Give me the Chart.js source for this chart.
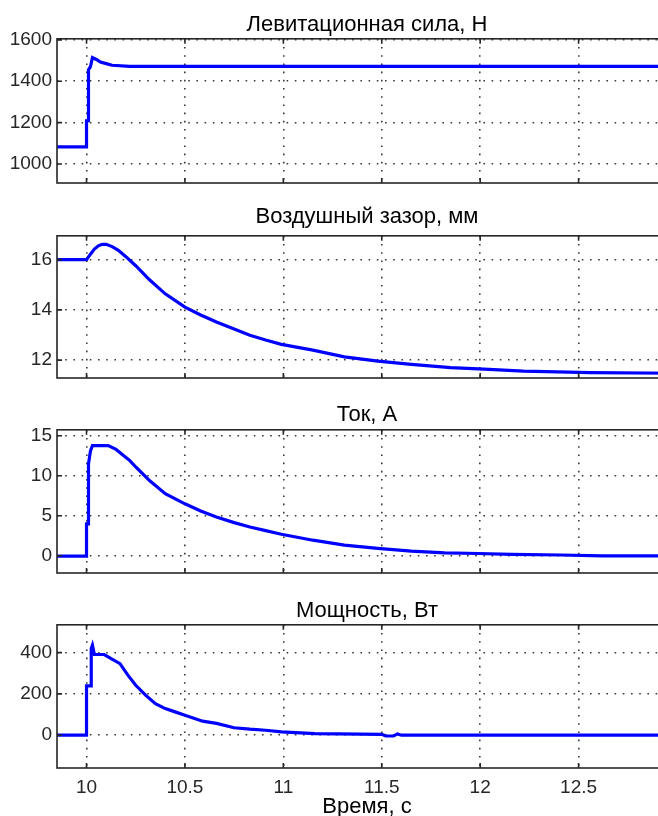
<!DOCTYPE html>
<html lang="ru">
<head>
<meta charset="utf-8">
<title>Левитация</title>
<script src="https://cdn.jsdelivr.net/npm/chart.js@4.4.1/dist/chart.umd.min.js"></script>
<style>
    html, body {
        margin: 0;
        padding: 0;
        background: #ffffff;
        overflow: hidden;
        width: 658px;
        height: 816px;
    }

    canvas {
        position: absolute;
        left: 0;
    }
</style>
</head>
<body>

<canvas id="forceChart" width="734" height="200" style="top:0px"></canvas>
<canvas id="gapChart" width="734" height="197" style="top:198px"></canvas>
<canvas id="currentChart" width="734" height="197" style="top:393px"></canvas>
<canvas id="powerChart" width="734" height="232" style="top:588px"></canvas>

<script>
// time axis
const timeLabel = "Время, с";
const timeTicks = [10, 10.5, 11, 11.5, 12, 12.5];
const timeMin = 9.85;
const timeMax = 13;

// levitation force, N
const forceTitle = "Левитационная сила, Н";
const forceTime = [9.85, 10.0, 10.0, 10.01, 10.01, 10.02, 10.03, 10.05, 10.07, 10.1, 10.13, 10.22, 13.0];
const forceValues = [1083, 1083, 1209, 1209, 1455, 1470, 1514, 1505, 1493, 1485, 1477, 1472, 1472];
const forceTicks = [1000, 1200, 1400, 1600];

// air gap, mm
const gapTitle = "Воздушный зазор, мм";
const gapTime = [9.85, 10.0, 10.02, 10.04, 10.06, 10.08, 10.1, 10.13, 10.16, 10.2, 10.25, 10.32, 10.4, 10.5, 10.58, 10.66, 10.75, 10.83, 10.91, 10.99, 11.15, 11.31, 11.48, 11.65, 11.85, 12.02, 12.22, 12.56, 13.0];
const gapValues = [16.0, 16.0, 16.22, 16.42, 16.55, 16.61, 16.61, 16.52, 16.38, 16.12, 15.76, 15.2, 14.64, 14.11, 13.8, 13.52, 13.24, 12.99, 12.8, 12.63, 12.4, 12.13, 11.96, 11.83, 11.7, 11.64, 11.56, 11.5, 11.48];
const gapTicks = [12, 14, 16];

// current, A
const currentTitle = "Ток, А";
const currentTime = [9.85, 10.0, 10.0, 10.01, 10.01, 10.02, 10.03, 10.11, 10.15, 10.18, 10.22, 10.25, 10.32, 10.4, 10.5, 10.58, 10.66, 10.75, 10.83, 10.91, 10.99, 11.15, 11.31, 11.48, 11.65, 11.82, 11.99, 12.16, 12.41, 12.62, 13.0];
const currentValues = [-0.05, -0.05, 4.0, 4.0, 11.5, 13.1, 13.77, 13.77, 13.3, 12.7, 11.9, 11.1, 9.4, 7.76, 6.5, 5.6, 4.85, 4.15, 3.6, 3.15, 2.7, 1.95, 1.33, 0.92, 0.58, 0.37, 0.29, 0.17, 0.1, 0.0, 0.0];
const currentTicks = [0, 5, 10, 15];

// power, W
const powerTitle = "Мощность, Вт";
const powerTime = [9.85, 10.0, 10.0, 10.024, 10.024, 10.03, 10.04, 10.09, 10.125, 10.17, 10.21, 10.25, 10.3, 10.35, 10.4, 10.45, 10.5, 10.59, 10.66, 10.75, 10.83, 10.91, 10.99, 11.16, 11.5, 11.52, 11.56, 11.58, 11.6, 12.0, 13.0];
const powerValues = [0, 0, 239, 239, 420, 436, 391, 391, 371, 347, 291, 242, 194, 153, 129, 113, 97, 68, 57, 36, 29, 24, 16, 8, 4, -4, -4, 6, 0, 0, 0];
const powerTicks = [0, 200, 400];

const fontFamily = "'Liberation Sans', Arial, sans-serif";

function toPoints(time, values) {
    return time.map((t, i) => ({ x: t, y: values[i] }));
}

// box round the plot and inward tick marks, as in MATLAB
const matlabFrame = {
    id: "matlabFrame",
    afterDatasetsDraw(chart) {
        const { ctx, chartArea, scales } = chart;
        const len = 5;

        ctx.save();
        ctx.strokeStyle = "#262626";
        ctx.lineWidth = 1.6;
        ctx.beginPath();

        scales.x.ticks.forEach(t => {
            const px = scales.x.getPixelForValue(t.value);
            ctx.moveTo(px, chartArea.top);
            ctx.lineTo(px, chartArea.top + len);
            ctx.moveTo(px, chartArea.bottom);
            ctx.lineTo(px, chartArea.bottom - len);
        });

        scales.y.ticks.forEach(t => {
            const py = scales.y.getPixelForValue(t.value);
            ctx.moveTo(chartArea.left, py);
            ctx.lineTo(chartArea.left + len, py);
            ctx.moveTo(chartArea.right, py);
            ctx.lineTo(chartArea.right - len, py);
        });

        ctx.stroke();
        ctx.strokeRect(chartArea.left, chartArea.top, chartArea.width, chartArea.height);
        ctx.restore();
    }
};

function createPlot(canvasId, title, time, values, yTicks, yMin, yMax, titlePad, isLast) {

    const ctx = document.getElementById(canvasId).getContext("2d");

    return new Chart(ctx, {
        type: "line",
        data: {
            datasets: [
                {
                    data: toPoints(time, values),
                    borderColor: "#0000ff",
                    borderWidth: 3.2,
                    pointRadius: 0,
                    tension: 0,
                    fill: false
                }
            ]
        },
        options: {
            responsive: false,
            animation: false,
            layout: {
                padding: { left: 0, right: 0, top: 0, bottom: isLast ? 0 : 17 }
            },
            plugins: {
                legend: { display: false },
                tooltip: { enabled: false },
                title: {
                    display: true,
                    text: title,
                    color: "#000000",
                    font: { family: fontFamily, size: 22, weight: "normal" },
                    padding: titlePad
                }
            },
            scales: {
                x: {
                    type: "linear",
                    min: timeMin,
                    max: timeMax,
                    afterBuildTicks(scale) {
                        scale.ticks = timeTicks.map(v => ({ value: v }));
                    },
                    afterFit(scale) {
                        scale.height = isLast ? 52 : 0;
                        scale.paddingLeft = 0;
                        scale.paddingRight = 0;
                    },
                    ticks: {
                        display: isLast,
                        color: "#262626",
                        padding: 8,
                        maxRotation: 0,
                        font: { family: fontFamily, size: 19 },
                        callback: v => String(v)
                    },
                    grid: {
                        color: "#3a3a3a",
                        lineWidth: 1.6,
                        drawTicks: false
                    },
                    border: { display: false, dash: [1.6, 6.6] },
                    title: {
                        display: isLast,
                        text: timeLabel,
                        color: "#000000",
                        font: { family: fontFamily, size: 22 },
                        padding: { top: 0, bottom: 0 }
                    }
                },
                y: {
                    position: "left",
                    min: yMin,
                    max: yMax,
                    afterBuildTicks(scale) {
                        scale.ticks = yTicks.map(v => ({ value: v }));
                    },
                    afterFit(scale) {
                        scale.width = 57;
                        scale.paddingTop = 0;
                        scale.paddingBottom = 0;
                    },
                    ticks: {
                        color: "#262626",
                        padding: 5,
                        font: { family: fontFamily, size: 19 },
                        callback: v => String(v)
                    },
                    grid: {
                        color: "#3a3a3a",
                        lineWidth: 1.6,
                        drawTicks: false
                    },
                    border: { display: false, dash: [1.6, 6.6] }
                },
                // empty axis on the right so the title centres over the plot
                yRight: {
                    position: "right",
                    min: yMin,
                    max: yMax,
                    afterFit(scale) {
                        scale.width = 57;
                        scale.paddingTop = 0;
                        scale.paddingBottom = 0;
                    },
                    ticks: { display: false },
                    grid: { display: false },
                    border: { display: false }
                }
            }
        },
        plugins: [matlabFrame]
    });
}

createPlot("forceChart", forceTitle, forceTime, forceValues, forceTicks, 908, 1605, { top: 11.8, bottom: 0.6 }, false);
createPlot("gapChart", gapTitle, gapTime, gapValues, gapTicks, 11.29, 16.95, { top: 5.4, bottom: 6 }, false);
createPlot("currentChart", currentTitle, currentTime, currentValues, currentTicks, -2.15, 15.75, { top: 8.6, bottom: 1.8 }, false);
createPlot("powerChart", powerTitle, powerTime, powerValues, powerTicks, -159, 535, { top: 10.1, bottom: 0.3 }, true);
</script>
</body>
</html>
